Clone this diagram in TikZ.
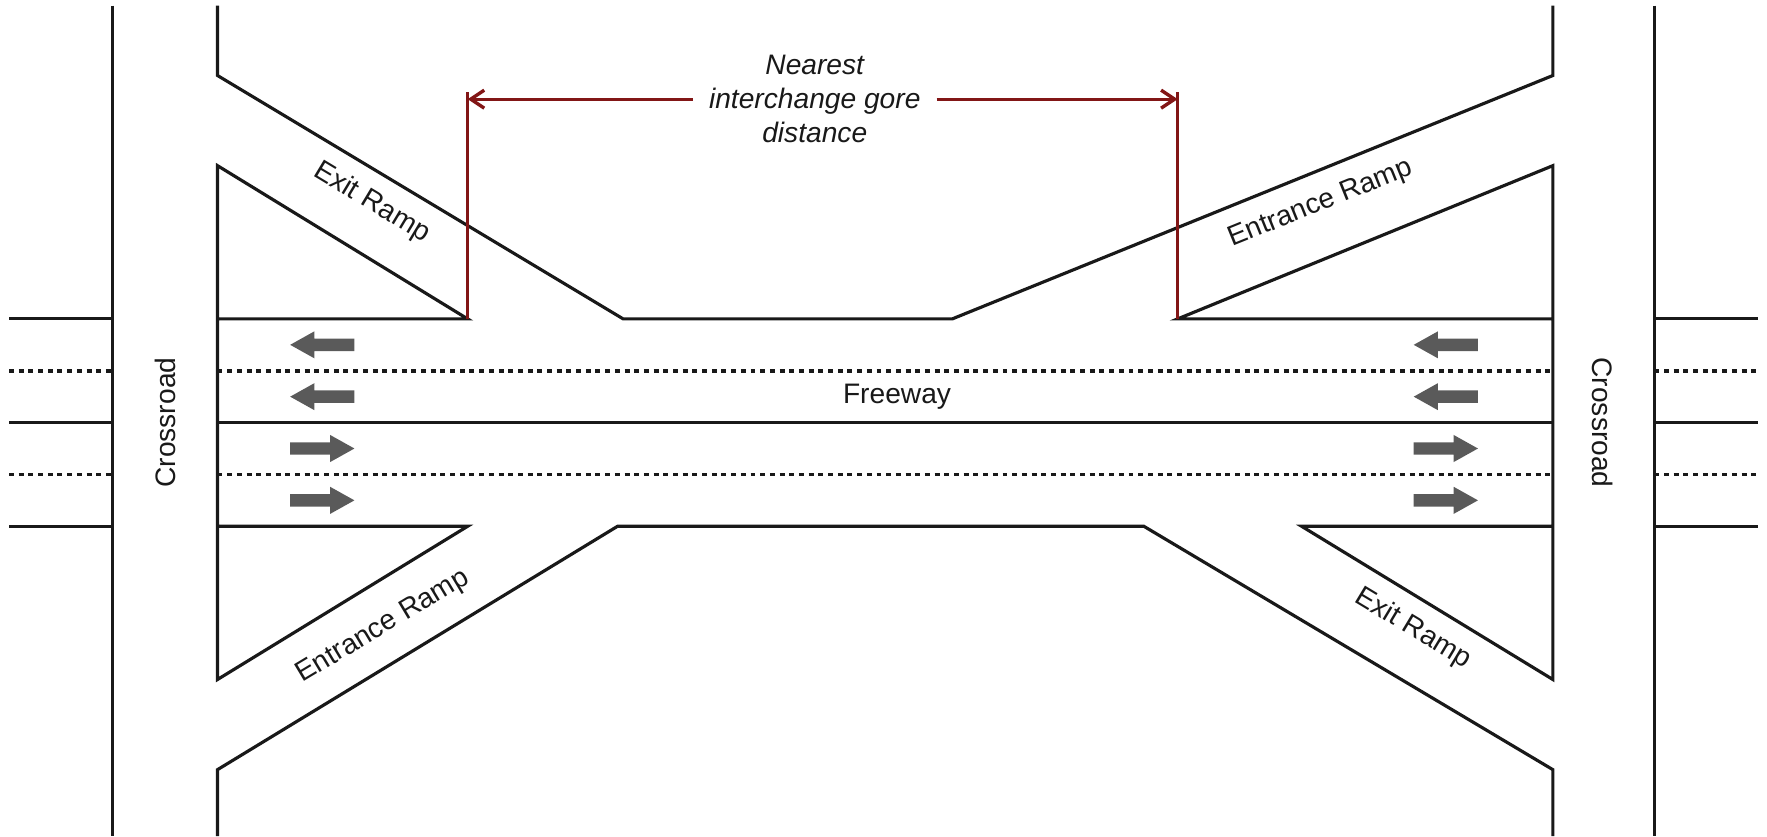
\documentclass[tikz,border=0pt]{standalone}
\usepackage{fontspec}
\setmainfont{Liberation Sans}
\usetikzlibrary{arrows.meta}
\definecolor{dimred}{RGB}{130,22,22}
\definecolor{lanegray}{RGB}{90,90,90}
\definecolor{ink}{RGB}{25,25,25}

\begin{document}
\begin{tikzpicture}[x=0.5pt,y=-0.5pt,
  road/.style={line width=1.4pt, draw=ink, line join=miter},
  lanemark/.style={line width=1.6pt, draw=ink, dash pattern=on 2.2pt off 2.1pt},
  dimline/.style={line width=1.4pt, draw=dimred},
  dimtip/.style={-{Straight Barb[length=6pt,width=8pt,line width=1.5pt]}},
  lbl/.style={font=\fontsize{12.5}{15}\selectfont, text=ink, inner sep=0pt},
  lanearrow/.pic={\fill[lanegray] (-28.5,5.5) -- (7,5.5) -- (7,12) -- (28.5,0)
                    -- (7,-12) -- (7,-5.5) -- (-28.5,-5.5) -- cycle;}
]
\useasboundingbox (0,0) rectangle (1568,742);

% crossroads: outer edges
\draw[road] (100,5) -- (100,742);
\draw[road] (1468,5) -- (1468,742);

% ramp edges on the freeway side of each crossroad
\draw[road] (193,5) -- (193,67) -- (553,283) -- (845,283) -- (1378,67) -- (1378,5);
\draw[road] (193,742) -- (193,683) -- (548,467) -- (1015,467) -- (1378,683) -- (1378,742);
\draw[road] (193,283) -- (415,283) -- (193,147) -- (193,603) -- (415,467) -- (193,467);
\draw[road] (1378,283) -- (1045,283) -- (1378,147) -- (1378,603) -- (1155,467) -- (1378,467);

% freeway median and approach roads
\draw[road] (193,375) -- (1378,375);
\foreach \yy in {283,375,467} {
  \draw[road] (8,\yy) -- (100,\yy);
  \draw[road] (1468,\yy) -- (1560,\yy);
}
% lane lines
\foreach \yy in {329,421} {
  \draw[lanemark] (8,\yy) -- (100,\yy);
  \draw[lanemark] (193,\yy) -- (1378,\yy);
  \draw[lanemark] (1468,\yy) -- (1560,\yy);
}

% direction of travel
\foreach \xx in {286,1283} {
  \pic[rotate=180] at (\xx,306) {lanearrow};
  \pic[rotate=180] at (\xx,352) {lanearrow};
  \pic at (\xx,398) {lanearrow};
  \pic at (\xx,444) {lanearrow};
}

% labels
\node[lbl] (freeway) at (796,352) {Freeway};
\node[lbl, rotate=90] (crossW) at (147,375) {Crossroad};
\node[lbl, rotate=-90] (crossE) at (1422,375) {Crossroad};
\node[lbl, rotate=-31] (exitNW) at (330,180) {Exit Ramp};
\node[lbl, rotate=22] (entNE) at (1172,181) {Entrance Ramp};
\node[lbl, rotate=31] (entSW) at (340,556) {Entrance Ramp};
\node[lbl, rotate=-31] (exitSE) at (1254,558) {Exit Ramp};

% gore-to-gore distance
\coordinate (goreW) at (415,283);
\coordinate (goreE) at (1045,283);
\coordinate (topW) at (415,82);
\coordinate (topE) at (1045,82);
\node[lbl, align=center, font=\fontsize{12.5}{15}\selectfont\itshape] (gap) at (723,88)
  {Nearest\\interchange gore\\distance};
\draw[dimline] (goreW) -- (topW);
\draw[dimline] (goreE) -- (topE);
\draw[dimline, dimtip] ([xshift=-7pt]gap.west) -- (gap.west -| goreW);
\draw[dimline, dimtip] ([xshift=7pt]gap.east) -- (gap.east -| goreE);
\end{tikzpicture}
\end{document}
